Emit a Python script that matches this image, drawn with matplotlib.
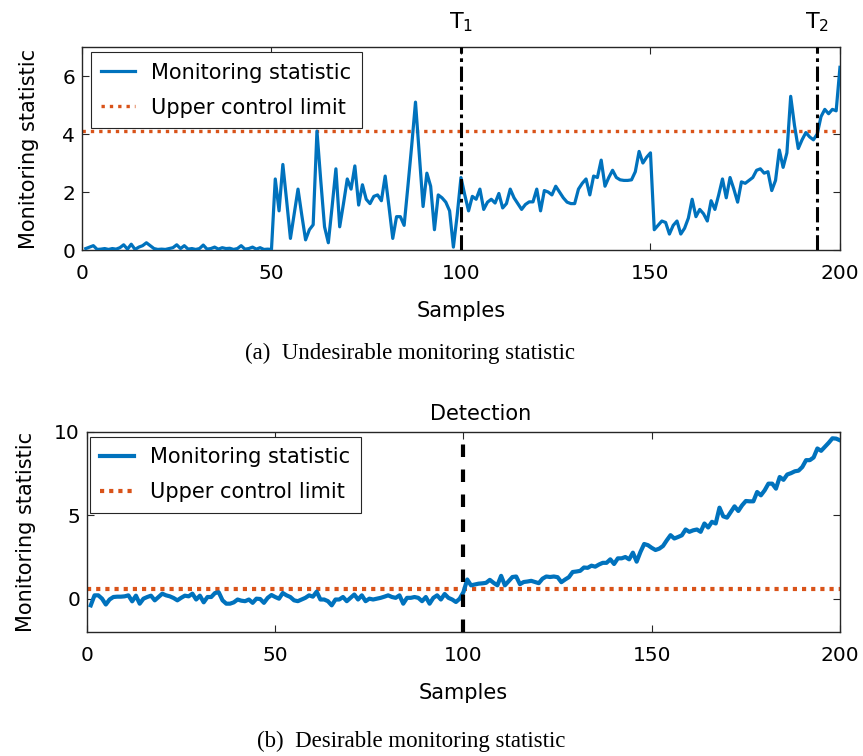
import matplotlib
matplotlib.use("Agg")
import matplotlib.pyplot as plt
import matplotlib.transforms as mtransforms
import numpy as np

plt.rcParams['font.family'] = ['DejaVu Sans']
plt.rcParams['mathtext.fontset'] = 'dejavusans'

# ---------------- data ----------------
samples = list(range(1, 201))

stat_a = [
    0.05, 0.10, 0.15, 0.02, 0.03, 0.05, 0.02, 0.05, 0.03, 0.08,
    0.18, 0.03, 0.20, 0.02, 0.10, 0.15, 0.25, 0.15, 0.05, 0.02,
    0.03, 0.02, 0.05, 0.08, 0.18, 0.05, 0.15, 0.03, 0.05, 0.02,
    0.05, 0.17, 0.03, 0.05, 0.10, 0.03, 0.08, 0.05, 0.06, 0.02,
    0.05, 0.15, 0.03, 0.05, 0.10, 0.03, 0.08, 0.02, 0.03, 0.02,
    2.45, 1.35, 2.95, 1.70, 0.40, 1.25, 2.10, 1.20, 0.35, 0.70,
    0.87, 4.10, 2.40, 0.80, 0.25, 1.50, 2.80, 0.80, 1.60, 2.45,
    2.10, 2.90, 1.55, 2.25, 1.75, 1.60, 1.85, 1.90, 1.70, 2.55,
    1.50, 0.40, 1.15, 1.15, 0.85, 2.20, 3.60, 5.10, 3.30, 1.50,
    2.65, 2.20, 0.70, 1.90, 1.80, 1.65, 1.35, 0.10, 1.20, 2.50,
    1.90, 1.35, 1.85, 1.75, 2.10, 1.40, 1.65, 1.75, 1.62, 1.95,
    1.45, 1.60, 2.10, 1.80, 1.60, 1.40, 1.57, 1.66, 1.66, 2.10,
    1.35, 2.05, 2.00, 1.90, 2.20, 2.00, 1.80, 1.65, 1.60, 1.60,
    2.10, 2.30, 2.45, 1.90, 2.55, 2.50, 3.10, 2.20, 2.50, 2.75,
    2.50, 2.42, 2.40, 2.40, 2.42, 2.70, 3.40, 3.00, 3.20, 3.35,
    0.70, 0.85, 1.00, 0.95, 0.55, 0.85, 1.00, 0.55, 0.75, 1.10,
    1.75, 1.15, 1.40, 1.25, 1.00, 1.70, 1.40, 1.90, 2.45, 1.80,
    2.50, 2.10, 1.65, 2.35, 2.30, 2.40, 2.50, 2.75, 2.80, 2.65,
    2.70, 2.05, 2.40, 3.45, 2.85, 3.35, 5.30, 4.30, 3.50, 3.80,
    4.05, 3.90, 3.80, 4.00, 4.60, 4.85, 4.70, 4.85, 4.80, 6.30,
]
ucl_a = 4.1
t1 = 100
t2 = 194

stat_b = [
    -0.40, 0.20, 0.20, 0.00, -0.35, -0.05, 0.10, 0.12, 0.12, 0.14,
    0.20, -0.16, 0.18, -0.30, 0.00, 0.10, 0.18, -0.10, 0.10, 0.30,
    0.20, 0.14, 0.04, -0.10, 0.05, 0.18, 0.14, 0.30, -0.05, 0.18,
    -0.22, 0.10, 0.10, 0.34, 0.38, -0.10, -0.30, -0.30, -0.22, -0.05,
    -0.12, -0.15, -0.05, -0.25, 0.00, -0.02, -0.25, 0.05, 0.22, 0.10,
    0.00, 0.34, 0.20, 0.10, -0.10, -0.15, -0.05, 0.05, 0.20, 0.12,
    0.42, -0.05, -0.05, -0.15, -0.40, -0.05, -0.05, 0.10, -0.15, 0.05,
    0.25, -0.05, 0.20, -0.15, 0.00, -0.05, 0.00, 0.05, 0.12, 0.20,
    0.10, 0.05, 0.20, -0.30, 0.05, 0.05, 0.10, 0.05, -0.15, 0.10,
    -0.30, 0.05, 0.20, -0.05, 0.28, 0.05, -0.05, -0.20, 0.00, 0.40,
    1.15, 0.80, 0.85, 0.90, 0.92, 0.95, 1.13, 0.95, 0.80, 1.37,
    0.80, 1.05, 1.30, 1.33, 0.87, 1.00, 1.03, 1.07, 1.00, 0.93,
    1.20, 1.33, 1.30, 1.33, 1.29, 0.99, 1.15, 1.29, 1.60, 1.63,
    1.67, 1.87, 1.85, 1.98, 1.92, 2.05, 2.15, 2.15, 2.36, 2.08,
    2.42, 2.42, 2.50, 2.36, 2.76, 2.22, 2.80, 3.28, 3.21, 3.05,
    2.92, 3.00, 3.16, 3.50, 3.81, 3.61, 3.70, 3.80, 4.15, 4.01,
    4.10, 4.15, 4.01, 4.51, 4.27, 4.61, 4.51, 5.46, 4.94, 4.86,
    5.20, 5.54, 5.26, 5.60, 5.86, 5.84, 5.84, 6.40, 6.20, 6.50,
    6.90, 6.90, 6.60, 7.30, 7.13, 7.45, 7.53, 7.64, 7.68, 7.90,
    8.31, 8.31, 8.47, 9.01, 8.87, 9.11, 9.35, 9.62, 9.60, 9.50,
]
ucl_b = 0.58
detection = 100

x_ticks = [0, 50, 100, 150, 200]
y_ticks_a = [0, 2, 4, 6]
y_ticks_b = [0, 5, 10]

blue = '#0072BD'
orange = '#D95319'
axcol = '#262626'

fig = plt.figure(figsize=(8.63, 7.56), dpi=100)

def style(ax):
    for s in ax.spines.values():
        s.set_color(axcol)
        s.set_linewidth(1.0)
    ax.tick_params(direction='in', top=True, right=True, length=5,
                   width=0.8, color=axcol, labelsize=14.5, labelcolor='black')
    ax.tick_params(axis='x', pad=10)
    ax.tick_params(axis='y', pad=5)

leg_kw = dict(fontsize=15, handlelength=1.6, handletextpad=0.8, labelspacing=0.72,
              borderpad=0.5, fancybox=False, framealpha=1, edgecolor=axcol,
              borderaxespad=0)

# ---------------- (a) ----------------
ax1 = fig.add_axes([0.0950, 0.6693, 0.8783, 0.2685])
ax1.plot(samples, stat_a, color=blue, lw=2.3, label='Monitoring statistic', zorder=3)
ax1.plot([0, 200], [ucl_a, ucl_a], color=orange, lw=2.4, linestyle=(0, (1, 1.5)),
         label='Upper control limit', zorder=2)
ax1.axvline(t1, color='black', lw=2.2, linestyle=(0, (5, 1.5, 1.2, 1.5)), zorder=4)
ax1.axvline(t2, color='black', lw=2.2, linestyle=(0, (5, 1.5, 1.2, 1.5)), zorder=4)
ax1.set_xlim(0, 200)
ax1.set_ylim(0, 7)
ax1.set_xticks(x_ticks)
ax1.set_yticks(y_ticks_a)
style(ax1)
ax1.set_xlabel('Samples', fontsize=15, labelpad=13)
ax1.set_ylabel('Monitoring statistic', fontsize=15, labelpad=17)
trans1 = mtransforms.blended_transform_factory(ax1.transData, ax1.transAxes)
ax1.text(t1, 1.065, r'T$_1$', transform=trans1, ha='center', va='bottom', fontsize=16)
ax1.text(t2, 1.065, r'T$_2$', transform=trans1, ha='center', va='bottom', fontsize=16)
leg1 = ax1.legend(loc='upper left', bbox_to_anchor=(0.012, 0.975), **leg_kw)
leg1.get_frame().set_linewidth(0.8)

fig.text(0.475, 0.533, '(a)  Undesirable monitoring statistic', ha='center', va='center',
         fontsize=16.5, family=['Liberation Serif'])

# ---------------- (b) ----------------
ax2 = fig.add_axes([0.1008, 0.1640, 0.8725, 0.2646])
ax2.plot(samples, stat_b, color=blue, lw=3.0, label='Monitoring statistic', zorder=3)
ax2.plot([0, 200], [ucl_b, ucl_b], color=orange, lw=3.0, linestyle=(0, (1, 1.2)),
         label='Upper control limit', zorder=2)
ax2.axvline(detection, color='black', lw=3.0, linestyle=(0, (3, 3)), zorder=4)
ax2.set_xlim(0, 200)
ax2.set_ylim(-2, 10)
ax2.set_xticks(x_ticks)
ax2.set_yticks(y_ticks_b)
style(ax2)
ax2.set_xlabel('Samples', fontsize=15, labelpad=13)
ax2.set_ylabel('Monitoring statistic', fontsize=15, labelpad=13)
trans2 = mtransforms.blended_transform_factory(ax2.transData, ax2.transAxes)
ax2.text(104.5, 1.04, 'Detection', transform=trans2, ha='center', va='bottom', fontsize=15)
leg2 = ax2.legend(loc='upper left', bbox_to_anchor=(0.004, 0.975), **leg_kw)
leg2.get_frame().set_linewidth(0.8)

fig.text(0.476, 0.019, '(b)  Desirable monitoring statistic', ha='center', va='center',
         fontsize=16.5, family=['Liberation Serif'])

fig.savefig('out.png', dpi=100)
